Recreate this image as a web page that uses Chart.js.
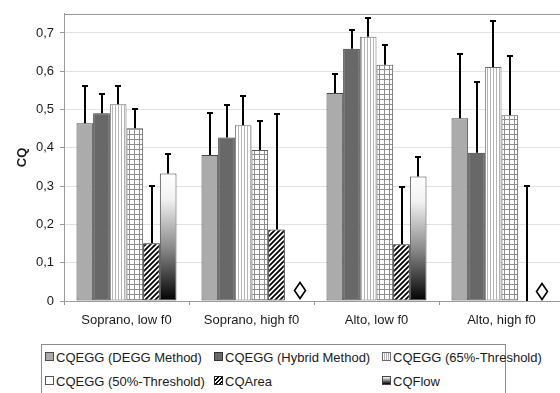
<!DOCTYPE html>
<html>
<head>
<meta charset="utf-8">
<script src="https://cdn.jsdelivr.net/npm/chart.js@4/dist/chart.umd.min.js"></script>
<style>
  html, body { margin: 0; padding: 0; background: #fff; overflow: hidden; width: 560px; height: 393px; }
  #wrap { position: relative; width: 560px; height: 393px; overflow: hidden; }
  #c { position: absolute; left: 0; top: 0; }
  #legend {
    position: absolute; left: 41px; top: 344px; width: 465px; height: 60px;
    border: 1px solid #8c8c8c; box-sizing: border-box;
    font: 13px "Liberation Sans", Arial, sans-serif; color: #1a1a1a;
  }
  .item { position: absolute; white-space: nowrap; line-height: 15px; }
  .sw { display: inline-block; width: 7px; height: 7px; border: 1px solid #666; margin-right: 2px; vertical-align: 1px; }
</style>
</head>
<body>
<div id="wrap">
  <canvas id="c" width="575" height="340"></canvas>
  <div id="legend"></div>
</div>
<script>
/* ── Data ── */
const categories = ['Soprano, low f0', 'Soprano, high f0', 'Alto, low f0', 'Alto, high f0'];

const seriesNames = [
  'CQEGG (DEGG Method)',
  'CQEGG (Hybrid Method)',
  'CQEGG (65%-Threshold)',
  'CQEGG (50%-Threshold)',
  'CQArea',
  'CQFlow',
];

const deggValues   = [0.464, 0.381, 0.543, 0.477];
const deggUpper    = [0.562, 0.490, 0.594, 0.646];
const hybridValues = [0.490, 0.427, 0.659, 0.387];
const hybridUpper  = [0.540, 0.513, 0.708, 0.572];
const thr65Values  = [0.514, 0.459, 0.690, 0.611];
const thr65Upper   = [0.561, 0.536, 0.738, 0.731];
const thr50Values  = [0.451, 0.394, 0.617, 0.485];
const thr50Upper   = [0.502, 0.471, 0.668, 0.641];
const areaValues   = [0.151, 0.187, 0.148, 0];
const areaUpper    = [0.301, 0.488, 0.299, 0.300];
const flowValues   = [0.333, null, 0.325, null];
const flowUpper    = [0.383, null, 0.376, null];

// "no value" diamonds: position along the category axis (index units) and height
const missingX = [1.39, 3.32];
const missingY = [0.028, 0.025];

const yTicks = [0, 0.1, 0.2, 0.3, 0.4, 0.5, 0.6, 0.7];

/* ── Fill patterns ── */
function tile(w, h, draw) {
  const cv = document.createElement('canvas');
  cv.width = w; cv.height = h;
  const g = cv.getContext('2d');
  g.fillStyle = '#fff';
  g.fillRect(0, 0, w, h);
  draw(g);
  return cv;
}

const ctx = document.getElementById('c').getContext('2d');

const vertLines = ctx.createPattern(tile(3, 3, g => {
  g.fillStyle = '#b4b4b4';
  g.fillRect(1, 0, 1, 3);
}), 'repeat');

const gridPat = ctx.createPattern(tile(5, 5, g => {
  g.fillStyle = '#8e8e8e';
  g.fillRect(4, 0, 1, 5);
  g.fillRect(0, 4, 5, 1);
}), 'repeat');

const diagPat = ctx.createPattern(tile(5, 5, g => {
  g.strokeStyle = '#000';
  g.lineWidth = 1.8;
  g.beginPath();
  g.moveTo(-1, 6); g.lineTo(6, -1);
  g.moveTo(-1, 1); g.lineTo(1, -1);
  g.moveTo(4, 6); g.lineTo(6, 4);
  g.stroke();
}), 'repeat');

const diamond = (() => {
  const cv = document.createElement('canvas');
  cv.width = 14; cv.height = 19;
  const g = cv.getContext('2d');
  g.beginPath();
  g.moveTo(7, 1.5); g.lineTo(12.5, 9.5); g.lineTo(7, 17.5); g.lineTo(1.5, 9.5); g.closePath();
  g.fillStyle = '#fff'; g.fill();
  g.strokeStyle = '#000'; g.lineWidth = 1.6; g.stroke();
  return cv;
})();

function flowGradient(c) {
  const chart = c.chart;
  if (!chart.chartArea || c.raw == null) return '#888';
  const y = chart.scales.y;
  const top = y.getPixelForValue(c.raw);
  const bot = y.getPixelForValue(0);
  const gr = chart.ctx.createLinearGradient(0, top, 0, bot);
  gr.addColorStop(0, '#ffffff');
  gr.addColorStop(0.2, '#f2f2f2');
  gr.addColorStop(0.6, '#858585');
  gr.addColorStop(1, '#000000');
  return gr;
}

/* ── Plugins ── */
const errorBars = {
  id: 'errorBars',
  afterDatasetsDraw(chart) {
    const { ctx, scales: { x, y } } = chart;
    ctx.save();
    ctx.strokeStyle = '#000';
    ctx.lineWidth = 2;
    chart.data.datasets.forEach((ds, i) => {
      if (!ds.upper) return;
      const meta = chart.getDatasetMeta(i);
      ds.upper.forEach((hi, j) => {
        if (hi == null) return;
        const px = Math.round(meta.data[j].x);
        const yHi = Math.round(y.getPixelForValue(hi));
        const yLo = y.getPixelForValue(ds.data[j] ?? 0);
        ctx.beginPath();
        ctx.moveTo(px, yLo); ctx.lineTo(px, yHi);
        ctx.moveTo(px - 3, yHi); ctx.lineTo(px + 3, yHi);
        ctx.stroke();
      });
    });
    // diamonds for the missing CQFlow values
    missingX.forEach((v, k) => {
      const px = x.getPixelForValue(v);
      const py = y.getPixelForValue(missingY[k]);
      ctx.drawImage(diamond, Math.round(px - diamond.width / 2), Math.round(py - diamond.height / 2));
    });
    ctx.restore();
  }
};

const frame = {
  id: 'frame',
  beforeDatasetsDraw(chart) {
    const { ctx, chartArea: a } = chart;
    ctx.save();
    ctx.strokeStyle = '#9a9a9a';
    ctx.lineWidth = 1;
    ctx.beginPath();
    ctx.moveTo(a.left, Math.round(a.top) + 0.5);
    ctx.lineTo(a.right, Math.round(a.top) + 0.5);
    ctx.stroke();
    ctx.restore();
  }
};

/* ── Chart ── */
const FONT = { family: '"Liberation Sans", Arial, sans-serif', size: 13 };
const barBase = { borderWidth: 1, borderSkipped: false, categoryPercentage: 0.8, barPercentage: 1 };

new Chart(ctx, {
  type: 'bar',
  data: {
    labels: categories,
    datasets: [
      { ...barBase, label: seriesNames[0], data: deggValues,   upper: deggUpper,   backgroundColor: '#ababab', borderColor: '#4a4a4a' },
      { ...barBase, label: seriesNames[1], data: hybridValues, upper: hybridUpper, backgroundColor: '#686868', borderColor: '#333' },
      { ...barBase, label: seriesNames[2], data: thr65Values,  upper: thr65Upper,  backgroundColor: vertLines, borderColor: '#6a6a6a' },
      { ...barBase, label: seriesNames[3], data: thr50Values,  upper: thr50Upper,  backgroundColor: gridPat,   borderColor: '#555' },
      { ...barBase, label: seriesNames[4], data: areaValues,   upper: areaUpper,   backgroundColor: diagPat,   borderColor: '#222' },
      { ...barBase, label: seriesNames[5], data: flowValues,   upper: flowUpper,   backgroundColor: flowGradient, borderColor: '#444' },
    ],
  },
  options: {
    responsive: false,
    animation: false,
    layout: { padding: { top: 7, right: 11, left: 0, bottom: 0 } },
    plugins: { legend: { display: false }, tooltip: { enabled: false } },
    scales: {
      x: {
        offset: true,
        grid: { display: true, offset: true, drawOnChartArea: false, tickLength: 4, tickColor: '#9a9a9a' },
        border: { color: '#9a9a9a' },
        ticks: { color: '#1a1a1a', font: FONT, padding: 8, maxRotation: 0 },
        afterFit: s => { s.height = 39; },
      },
      y: {
        min: 0, max: 0.75,
        afterBuildTicks: s => { s.ticks = yTicks.map(v => ({ value: v })); },
        grid: { color: '#e2e2e2', tickLength: 4, tickColor: '#9a9a9a' },
        border: { color: '#9a9a9a' },
        ticks: {
          color: '#1a1a1a', font: FONT, padding: 6,
          callback: v => v === 0 ? '0' : v.toFixed(1).replace('.', ','),
        },
        title: {
          display: true, text: 'CQ', color: '#1a1a1a',
          font: { ...FONT, weight: 'bold' }, padding: { top: 15, bottom: 0 },
        },
        afterFit: s => { s.width = 64; },
      },
    },
  },
  plugins: [frame, errorBars],
});

/* ── Legend (three fixed columns, as in the figure) ── */
const swatches = [
  'background:#ababab;border-color:#4a4a4a',
  'background:#686868;border-color:#333',
  'background:repeating-linear-gradient(90deg,#fff 0 1px,#b4b4b4 1px 2px);border-color:#6a6a6a',
  'background:#fff linear-gradient(#8e8e8e,#8e8e8e) 3px 0/1px 100% no-repeat,linear-gradient(#8e8e8e,#8e8e8e) 0 3px/100% 1px no-repeat;border-color:#555',
  'background:repeating-linear-gradient(135deg,#fff 0 1.5px,#000 1.5px 3px);border-color:#222',
  'background:linear-gradient(#fff,#000);border-color:#444',
];
const legendPos = [[3, 5], [172, 5], [340, 5], [3, 29], [172, 29], [340, 29]];
const legend = document.getElementById('legend');
seriesNames.forEach((name, i) => {
  const el = document.createElement('div');
  el.className = 'item';
  el.style.left = legendPos[i][0] + 'px';
  el.style.top = legendPos[i][1] + 'px';
  el.innerHTML = `<span class="sw" style="${swatches[i]}"></span>${name}`;
  legend.appendChild(el);
});
</script>
</body>
</html>
